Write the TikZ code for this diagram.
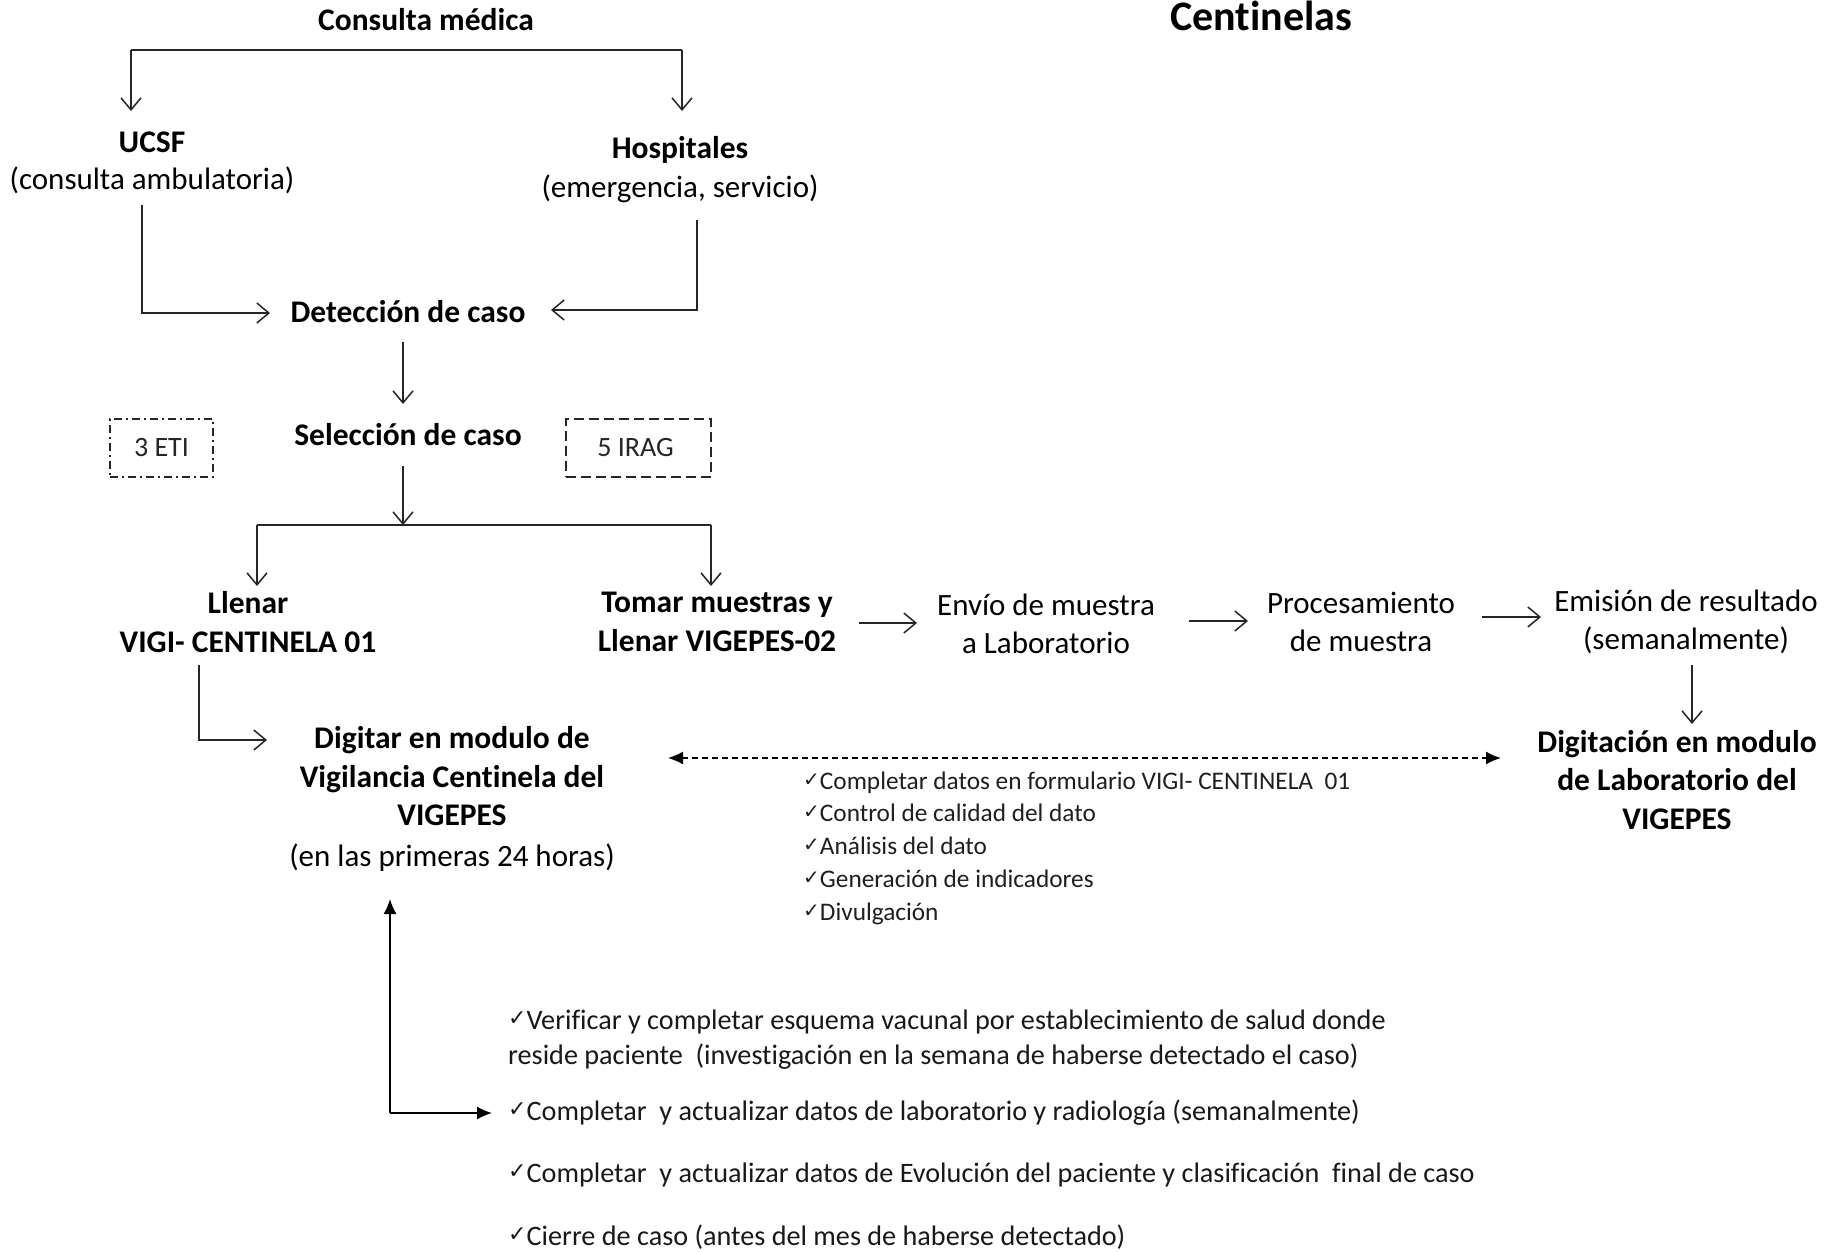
\documentclass[tikz,border=0pt]{standalone}
\usepackage{fontspec}
\setmainfont{Carlito}[Ligatures=NoCommon]
\newfontfamily\dejavu{DejaVu Sans}
\usetikzlibrary{arrows.meta}
\newcommand{\ckA}{\raisebox{3pt}{\dejavu\fontsize{20}{20}\selectfont ✓}}
\newcommand{\ckB}{\raisebox{4pt}{\dejavu\fontsize{22}{22}\selectfont ✓}}
\tikzset{
  lbl/.style={font=\fontsize{31}{38.5}\selectfont, align=center, inner sep=0pt},
  blbl/.style={font=\fontsize{31.5}{38.5}\selectfont\bfseries, align=center, inner sep=0pt},
  arr/.style={line width=1.5pt, draw=black!85, -{Straight Barb[length=12pt,width=20pt,line width=1.5pt]}},
  plain/.style={line width=1.5pt, draw=black!85},
  farr/.style={line width=1.5pt, draw=black, -{Latex[length=15pt,width=13pt]}},
  dbox/.style={draw=black!85, line width=1.5pt, minimum height=58pt, inner sep=0pt,
     font=\fontsize{28}{34}\selectfont, text=black!85},
  chk/.style={font=\fontsize{25.3}{32.8}\selectfont, align=left, inner sep=0pt, text=black!88},
  chkb/.style={font=\fontsize{28.2}{35}\selectfont, align=left, inner sep=0pt, text=black!90},
}
\begin{document}
\begin{tikzpicture}[x=1pt,y=-1pt]
\useasboundingbox (0,0) rectangle (1837,1251);
\fill[white] (0,0) rectangle (1837,1251);

% titles
\node[blbl] (consulta) at (426,20) {Consulta médica};
\node[font=\fontsize{42}{46}\selectfont\bfseries, inner sep=0pt] (centinelas) at (1261,16) {Centinelas};

% level 2
\node[blbl] (ucsf) at (152,142) {UCSF};
\node[lbl] (ucsfsub) at (152,180) {(consulta ambulatoria)};
\node[blbl] (hosp) at (680,150) {Hospitales};
\node[lbl] (hospsub) at (680,189) {(emergencia, servicio)};

\node[blbl] (det) at (408,312) {Detección de caso};
\node[blbl] (sel) at (408,435) {Selección de caso};

\node[dbox, minimum width=103pt, dash pattern=on 8pt off 4pt on 2pt off 4pt] (eti) at (161.5,448) {3 ETI};
\node[dbox, minimum width=145pt, dash pattern=on 10pt off 5pt] (irag) at (638.5,448) {\hspace*{-6pt}5 IRAG};

\node[blbl] (llenar) at (248,622) {Llenar\\VIGI- CENTINELA 01};
\node[blbl] (tomar) at (717,622) {Tomar muestras y\\Llenar VIGEPES-02};
\node[lbl] (envio) at (1046,624) {Envío de muestra\\a Laboratorio};
\node[lbl] (proc) at (1361,622) {Procesamiento\\de muestra};
\node[lbl] (emis) at (1686,622) {Emisión de resultado\\(semanalmente)};
\node[blbl] (diglab) at (1677,780) {Digitación en modulo\\de Laboratorio del\\VIGEPES};
\node[lbl] (digitar) at (452,799) {\textbf{\fontsize{31.5}{38.5}\selectfont Digitar en modulo de}\\\textbf{\fontsize{31.5}{38.5}\selectfont Vigilancia Centinela del}\\\textbf{\fontsize{31.5}{38.5}\selectfont VIGEPES}\\[2.5pt](en las primeras 24 horas)};

\node[chk, anchor=west] (mid) at (803,848) {\ckA Completar datos en formulario VIGI- CENTINELA\ \ 01\\
\ckA Control de calidad del dato\\
\ckA Análisis del dato\\
\ckA Generación de indicadores\\
\ckA Divulgación};

\node[chkb, anchor=west] (b1) at (508,1040) {\ckB Verificar y completar esquema vacunal por establecimiento de salud donde\\
reside paciente\ \ (investigación en la semana de haberse detectado el caso)};
\node[chkb, anchor=west] (b2) at (508,1113) {\ckB Completar\ \ y actualizar datos de laboratorio y radiología (semanalmente)};
\node[chkb, anchor=west] (b3) at (508,1175) {\ckB Completar\ \ y actualizar datos de Evolución del paciente y clasificación\ \ final de caso};
\node[chkb, anchor=west] (b4) at (508,1237) {\ckB Cierre de caso (antes del mes de haberse detectado)};

% coordinates
\coordinate (tl) at (131,50);
\coordinate (tr) at (682,50);
\coordinate (ucsfin) at (131,111);
\coordinate (hospin) at (682,111);
\coordinate (ucsfout) at (142,205);
\coordinate (detinL) at (270,313);
\coordinate (hospout) at (697,220);
\coordinate (detinR) at (551,310);
\coordinate (detout) at (403,342);
\coordinate (selin) at (403,404);
\coordinate (selout) at (403,466);
\coordinate (bm) at (403,525);
\coordinate (bl) at (257,525);
\coordinate (br) at (711,525);
\coordinate (llin) at (257,586);
\coordinate (toin) at (711,586);
\coordinate (a1s) at (859,623);
\coordinate (a1e) at (917,623);
\coordinate (a2s) at (1189,621);
\coordinate (a2e) at (1248,621);
\coordinate (a3s) at (1482,617);
\coordinate (a3e) at (1541,617);
\coordinate (a4s) at (1692,665);
\coordinate (a4e) at (1692,724);
\coordinate (llout) at (199,665);
\coordinate (digin) at (267,740);
\coordinate (dL) at (668,758);
\coordinate (dR) at (1501,758);
\coordinate (corner) at (390,1113);
\coordinate (upend) at (390,899);
\coordinate (rend) at (492,1113);

% connectors
\draw[plain] (tl) -- (tr);
\draw[arr] (tl) -- (ucsfin);
\draw[arr] (tr) -- (hospin);
\draw[arr] (ucsfout) |- (detinL);
\draw[arr] (hospout) |- (detinR);
\draw[arr] (detout) -- (selin);
\draw[arr] (selout) -- (bm);
\draw[plain] (bl) -- (br);
\draw[arr] (bl) -- (llin);
\draw[arr] (br) -- (toin);
\draw[arr] (a1s) -- (a1e);
\draw[arr] (a2s) -- (a2e);
\draw[arr] (a3s) -- (a3e);
\draw[arr] (a4s) -- (a4e);
\draw[arr] (llout) |- (digin);
\draw[line width=1.5pt, dash pattern=on 6pt off 4pt, {Latex[length=15pt,width=13pt]}-{Latex[length=15pt,width=13pt]}] (dL) -- (dR);
\draw[farr] (corner) -- (upend);
\draw[farr] (corner) -- (rend);
\end{tikzpicture}
\end{document}
